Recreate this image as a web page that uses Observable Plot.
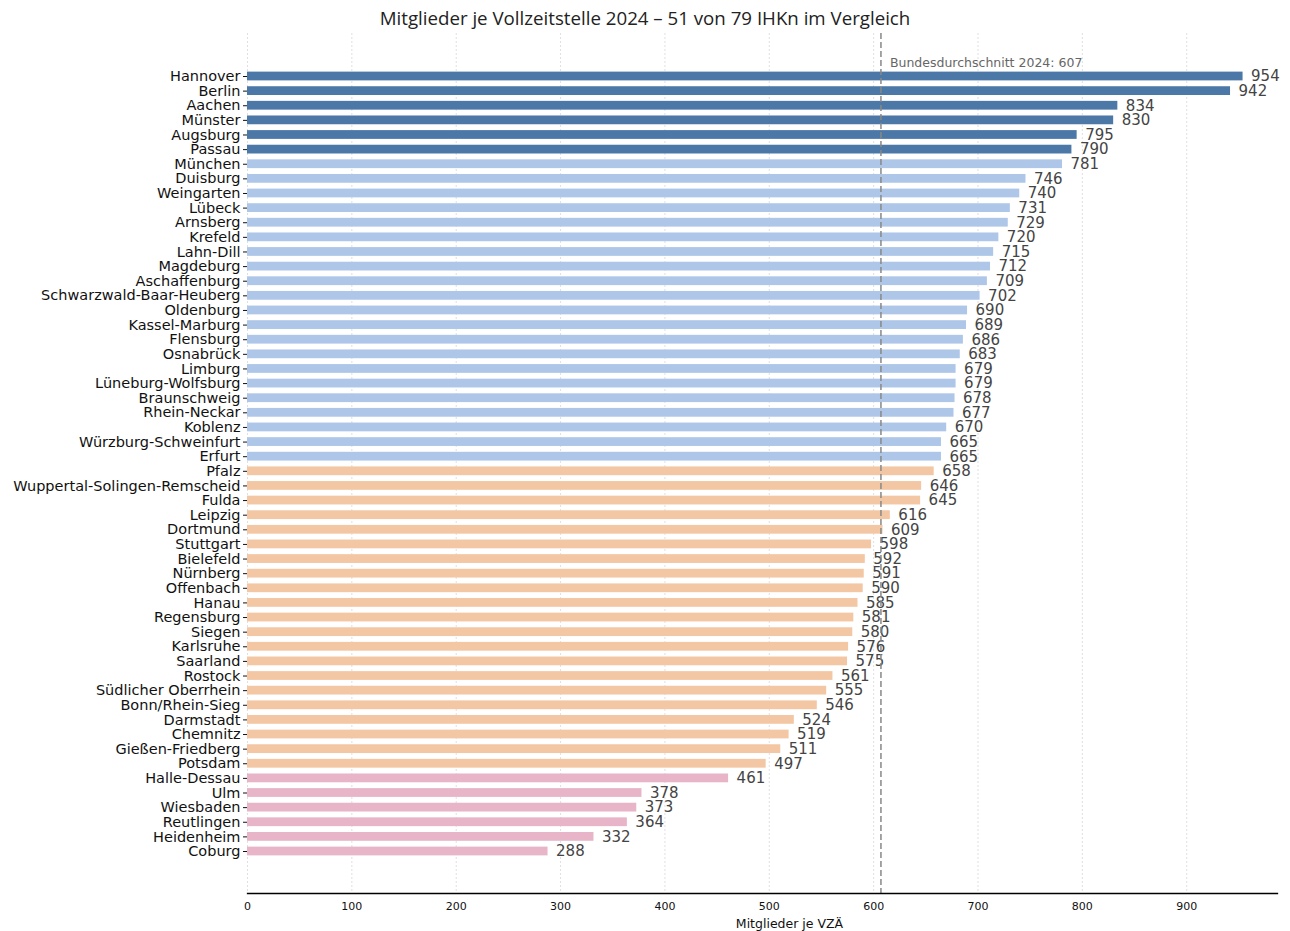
<!DOCTYPE html>
<html>
<head>
<meta charset="utf-8">
<script src="https://cdn.jsdelivr.net/npm/d3@7"></script>
<script src="https://cdn.jsdelivr.net/npm/@observablehq/plot@0.6"></script>
<style>
  html, body { margin: 0; padding: 0; background: #fff; }
  #title { width: 1290px; height: 33px; line-height: 36px; text-align: center;
           font-family: "Open Sans", sans-serif; font-size: 18.7px; color: #222; }
  #chart svg { display: block; }
</style>
</head>
<body>
<div id="title">Mitglieder je Vollzeitstelle 2024 – 51 von 79 IHKn im Vergleich</div>
<div id="chart"></div>
<script>
const names = ["Hannover","Berlin","Aachen","Münster","Augsburg","Passau","München","Duisburg","Weingarten","Lübeck","Arnsberg","Krefeld","Lahn-Dill","Magdeburg","Aschaffenburg","Schwarzwald-Baar-Heuberg","Oldenburg","Kassel-Marburg","Flensburg","Osnabrück","Limburg","Lüneburg-Wolfsburg","Braunschweig","Rhein-Neckar","Koblenz","Würzburg-Schweinfurt","Erfurt","Pfalz","Wuppertal-Solingen-Remscheid","Fulda","Leipzig","Dortmund","Stuttgart","Bielefeld","Nürnberg","Offenbach","Hanau","Regensburg","Siegen","Karlsruhe","Saarland","Rostock","Südlicher Oberrhein","Bonn/Rhein-Sieg","Darmstadt","Chemnitz","Gießen-Friedberg","Potsdam","Halle-Dessau","Ulm","Wiesbaden","Reutlingen","Heidenheim","Coburg"];
const values = [954,942,834,830,795,790,781,746,740,731,729,720,715,712,709,702,690,689,686,683,679,679,678,677,670,665,665,658,646,645,616,609,598,592,591,590,585,581,580,576,575,561,555,546,524,519,511,497,461,378,373,364,332,288];
const groups = ["top","top","top","top","top","top",
  "above","above","above","above","above","above","above","above","above","above","above","above","above","above","above","above","above","above","above","above","above",
  "below","below","below","below","below","below","below","below","below","below","below","below","below","below","below","below","below","below","below","below","below",
  "bottom","bottom","bottom","bottom","bottom","bottom"];
const groupNames = ["top","above","below","bottom"];
const groupColors = ["#4c78a8","#aec7e8","#f3c7a4","#e7b4c8"];
const average = 607;
const averageLabel = "Bundesdurchschnitt 2024: 607";
const xTicks = [0,100,200,300,400,500,600,700,800,900];
const xLabel = "Mitglieder je VZÄ";

const data = names.map((n, i) => ({name: n, value: values[i], group: groups[i]}));

const step = (818 - 43) / (names.length - 1);
const chart = Plot.plot({
  width: 1290,
  height: 898,
  marginLeft: 247,
  marginRight: 13,
  marginTop: 0,
  marginBottom: 38,
  style: {fontFamily: "DejaVu Sans, sans-serif", background: "#fff"},
  x: {domain: [0, 987]},
  y: {domain: names, range: [43 - step * 0.5, 818 + step * 0.5], paddingInner: 0.4, paddingOuter: 0.2},
  color: {domain: groupNames, range: groupColors},
  marks: [
    Plot.gridX(xTicks, {stroke: "#d8d8d8", strokeOpacity: 1, strokeDasharray: "2,2", strokeWidth: 0.8}),
    Plot.barX(data, {x: "value", y: "name", fill: "group"}),
    Plot.text(data, {x: "value", y: "name", text: d => String(d.value), textAnchor: "start", dx: 8, fontSize: 15, fill: "#444"}),
    Plot.ruleX([average], {stroke: "#888", strokeWidth: 1.5, strokeDasharray: "6,3"}),
    Plot.text([averageLabel], {x: average, frameAnchor: "top", dy: 25, dx: 9, textAnchor: "start", fontSize: 12.5, fill: "#666"}),
    Plot.axisY({tickSize: 4, tickPadding: 3, fontSize: 14.5, color: "#111", label: null}),
    Plot.axisX({ticks: xTicks, tickSize: 0, tickPadding: 9, fontSize: 11, color: "#111", label: null}),
    Plot.frame({anchor: "bottom", stroke: "#000", strokeWidth: 1.3}),
    Plot.text([xLabel], {frameAnchor: "bottom", dy: 34, dx: 27, fontSize: 12.5, fill: "#111"})
  ]
});
document.getElementById("chart").appendChild(chart);
</script>
</body>
</html>
